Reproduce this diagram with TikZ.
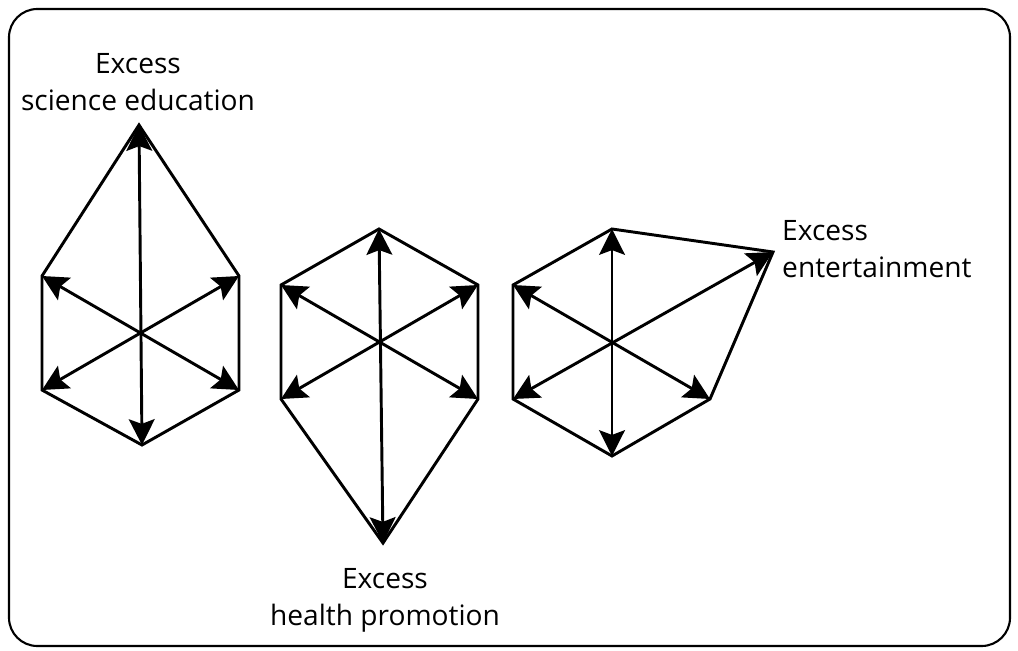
\documentclass[tikz,border=0pt]{standalone}
\usepackage{fontspec}
\setmainfont{Open Sans}
\usetikzlibrary{arrows.meta,positioning}

\begin{document}
\begin{tikzpicture}[x=0.03cm,y=-0.03cm,
    hexline/.style={line width=2.5pt, line join=miter},
    axis/.style={line width=2.5pt,
      {Stealth[length=22pt,width=22pt,inset=4pt]}-{Stealth[length=22pt,width=22pt,inset=4pt]}},
    lbl/.style={font=\fontsize{24}{31.5}\selectfont, align=center, inner sep=0pt}]
    \useasboundingbox (0,0) rectangle (1018,650);
    % Frame
    \draw[line width=1.8pt, rounded corners=0.85cm] (9,9) rectangle (1010,646);
    % Science education shape
    \coordinate (s-t) at (139,125); \coordinate (s-rt) at (239,276);
    \coordinate (s-rb) at (239,390); \coordinate (s-b) at (142,445);
    \coordinate (s-lb) at (42,390); \coordinate (s-lt) at (42,276);
    % Health promotion shape
    \coordinate (h-t) at (379,229); \coordinate (h-rt) at (478,285);
    \coordinate (h-rb) at (478,399); \coordinate (h-b) at (383,543);
    \coordinate (h-lb) at (281,399); \coordinate (h-lt) at (281,285);
    % Entertainment shape
    \coordinate (e-t) at (612,229); \coordinate (e-rt) at (773,252);
    \coordinate (e-rb) at (710,399); \coordinate (e-b) at (612,456);
    \coordinate (e-lb) at (513,399); \coordinate (e-lt) at (513,285);
    \foreach \h in {s,h,e} {
        \draw[hexline] (\h-t) -- (\h-rt) -- (\h-rb) -- (\h-b) -- (\h-lb) -- (\h-lt) -- cycle;
        \draw[axis] (\h-t) -- (\h-b);
        \draw[axis] (\h-lt) -- (\h-rb);
        \draw[axis] (\h-rt) -- (\h-lb);
    }
    % Labels
    \node[lbl] (sci) at (138,82) {Excess\\science education};
    \node[lbl] (hea) at (385,600) {Excess\\health promotion};
    \node[lbl, align=left, anchor=west] (ent) at (782,249) {Excess\\entertainment};
\end{tikzpicture}
\end{document}
